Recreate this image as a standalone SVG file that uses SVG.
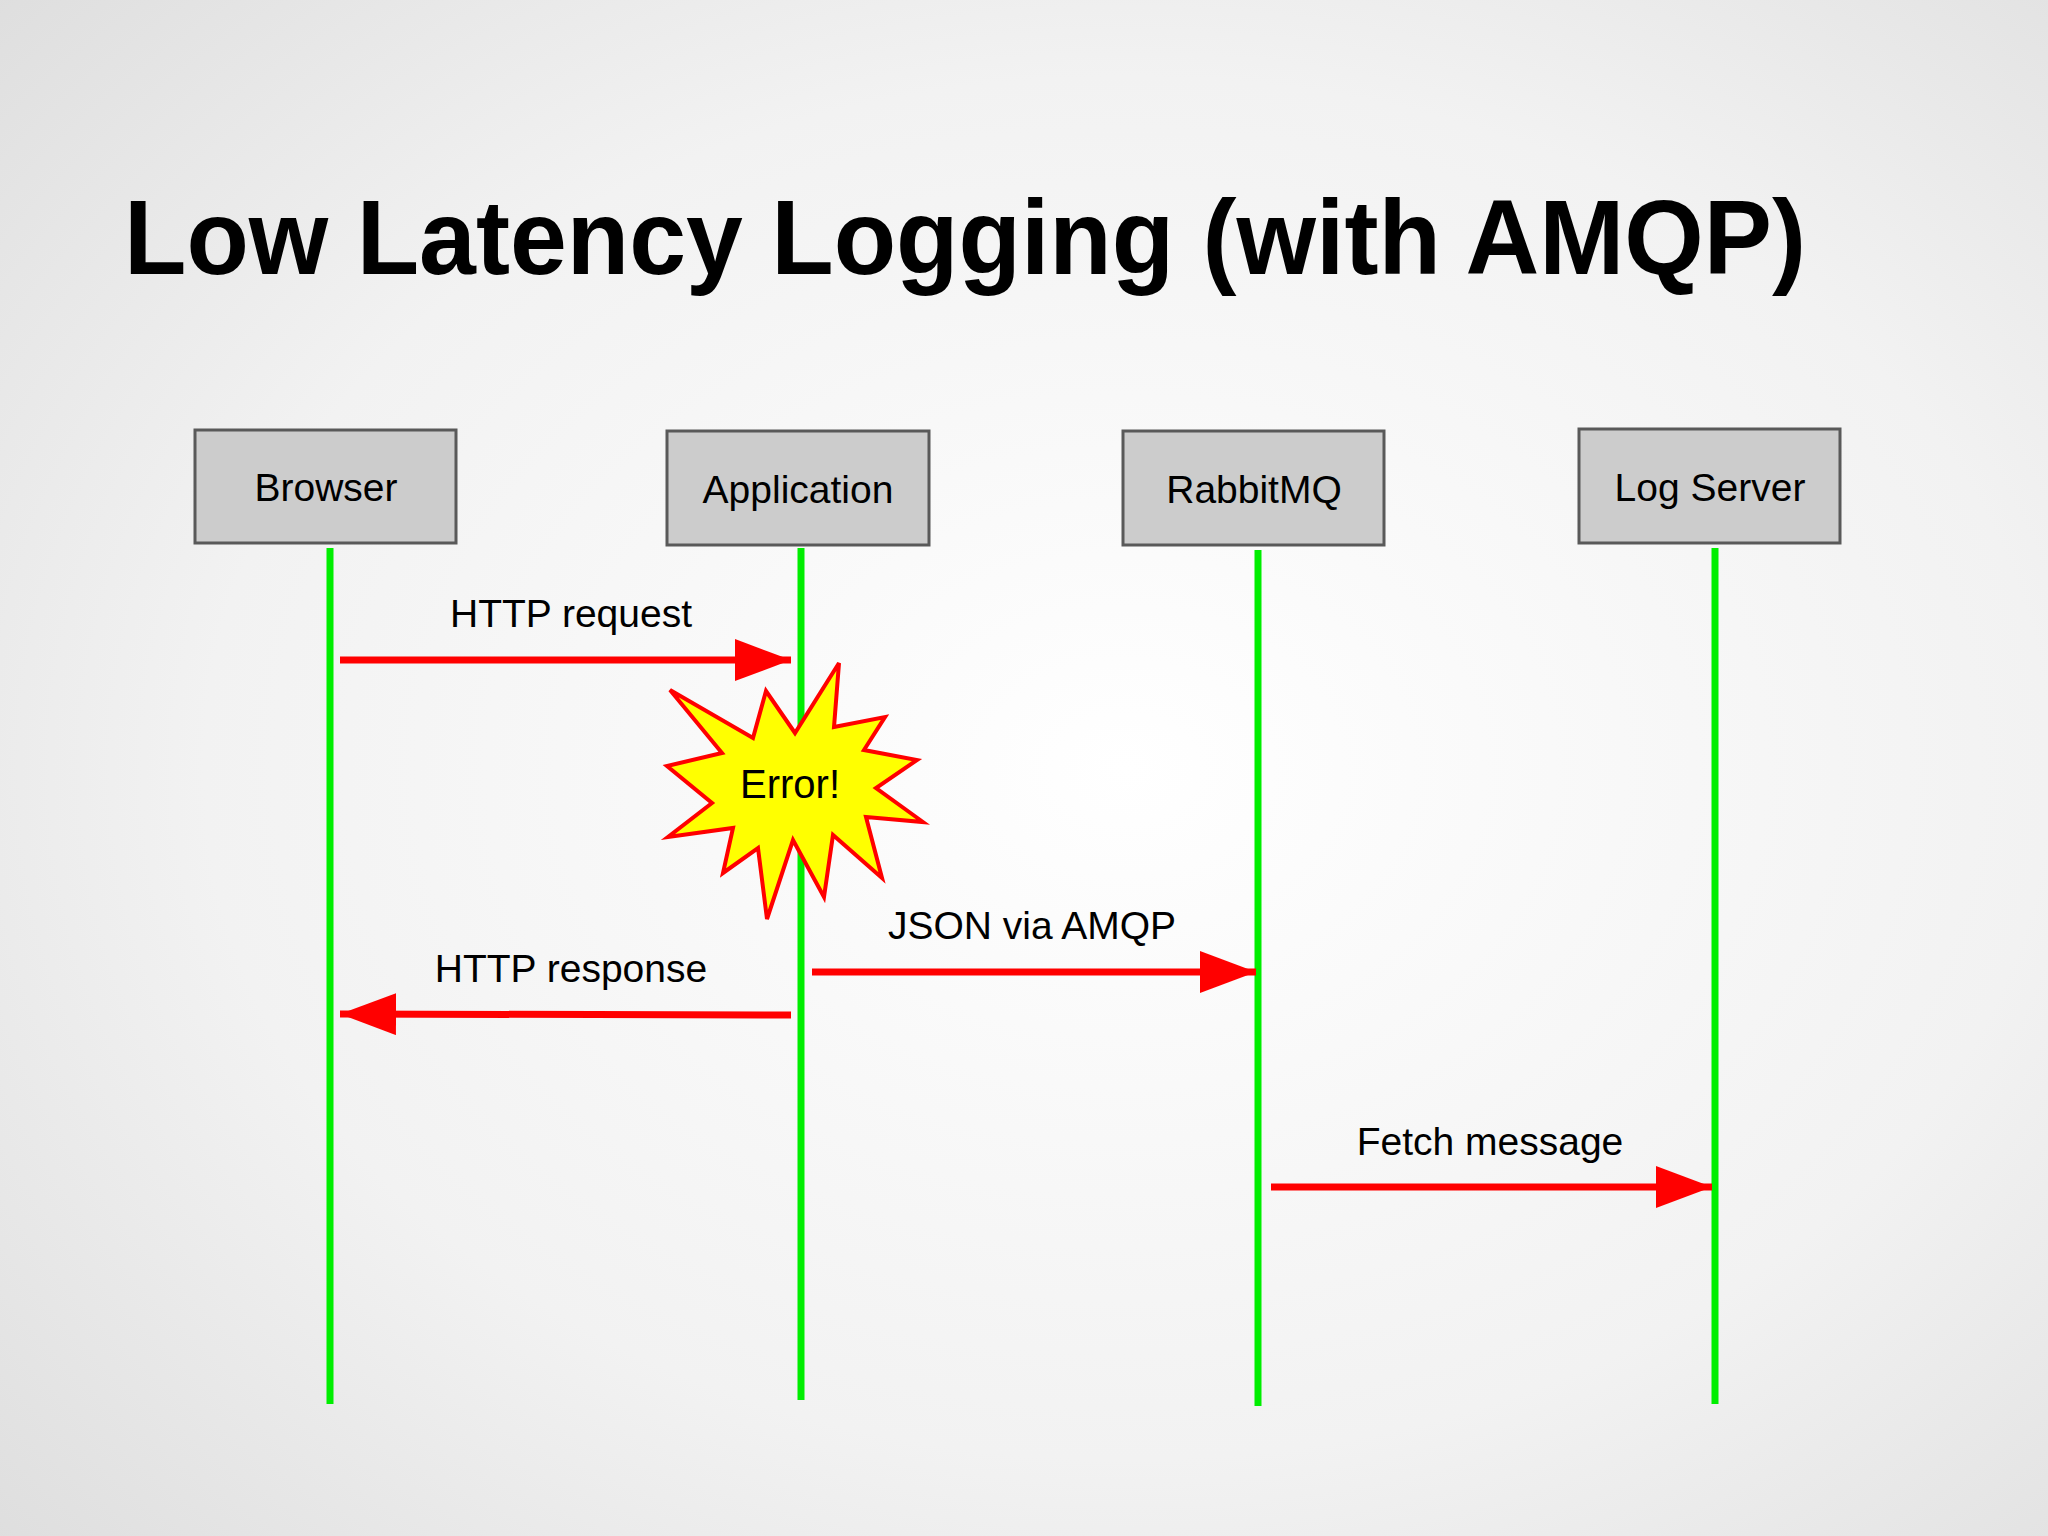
<svg xmlns="http://www.w3.org/2000/svg" width="2048" height="1536" viewBox="0 0 2048 1536">
<defs>
<radialGradient id="bg" cx="0.55" cy="0.5" r="0.75">
<stop offset="0" stop-color="#ffffff"/><stop offset="0.6" stop-color="#f2f2f2"/><stop offset="1" stop-color="#dedede"/>
</radialGradient>
<marker id="ah" markerUnits="userSpaceOnUse" markerWidth="58" markerHeight="42" refX="56" refY="21" orient="auto">
<path d="M0,0 L56,21 L0,42 Z" fill="#ff0000"/>
</marker>
<style>
.box{fill:#cccccc;stroke:#595959;stroke-width:3}
.bt{font-family:"Liberation Sans",Arial,sans-serif;font-size:39px;fill:#000;text-anchor:middle}
.life{stroke:#00ee00;stroke-width:7}
.msg{stroke:#ff0000;stroke-width:7;fill:none;marker-end:url(#ah)}
.lbl{font-family:"Liberation Sans",Arial,sans-serif;font-size:39px;fill:#000;text-anchor:middle}
</style>
</defs>
<rect width="2048" height="1536" fill="url(#bg)"/>
<text x="124" y="274" font-family="Liberation Sans,Arial,sans-serif" font-weight="bold" font-size="106" textLength="1682" lengthAdjust="spacingAndGlyphs">Low Latency Logging (with AMQP)</text>
<g id="lifelines">
<line class="life" x1="330" y1="548" x2="330" y2="1404"/>
<line class="life" x1="801" y1="548" x2="801" y2="1400"/>
<line class="life" x1="1258" y1="550" x2="1258" y2="1406"/>
<line class="life" x1="1715" y1="548" x2="1715" y2="1404"/>
</g>
<g id="browser"><rect class="box" x="195" y="430" width="261" height="113"/><text class="bt" x="326" y="501">Browser</text></g>
<g id="application"><rect class="box" x="667" y="431" width="262" height="114"/><text class="bt" x="798" y="503">Application</text></g>
<g id="rabbitmq"><rect class="box" x="1123" y="431" width="261" height="114"/><text class="bt" x="1254" y="503">RabbitMQ</text></g>
<g id="logserver"><rect class="box" x="1579" y="429" width="261" height="114"/><text class="bt" x="1710" y="501">Log Server</text></g>
<g id="connectors">
<line class="msg" x1="340" y1="660" x2="791" y2="660"/>
<line class="msg" x1="791" y1="1015" x2="340" y2="1014"/>
<line class="msg" x1="812" y1="972" x2="1256" y2="972"/>
<line class="msg" x1="1271" y1="1187" x2="1712" y2="1187"/>
<text class="lbl" x="571" y="627">HTTP request</text>
<text class="lbl" x="571" y="982">HTTP response</text>
<text class="lbl" x="1032" y="939">JSON via AMQP</text>
<text class="lbl" x="1490" y="1155">Fetch message</text>
</g>
<g id="error">
<polygon points="670,690 753,738 766,691 795,733 839,663 834,727 885,717 864,750 917,760 876,788 923,822 866,817 882,878 833,835 824,897 793,840 767,919 758,848 723,873 733,828 668,837 712,803 667,766 722,753" fill="#ffff00" stroke="#ff0000" stroke-width="4" stroke-linejoin="miter"/>
<text x="790" y="798" font-family="Liberation Sans,Arial,sans-serif" font-size="40" text-anchor="middle">Error!</text>
</g>
</svg>
